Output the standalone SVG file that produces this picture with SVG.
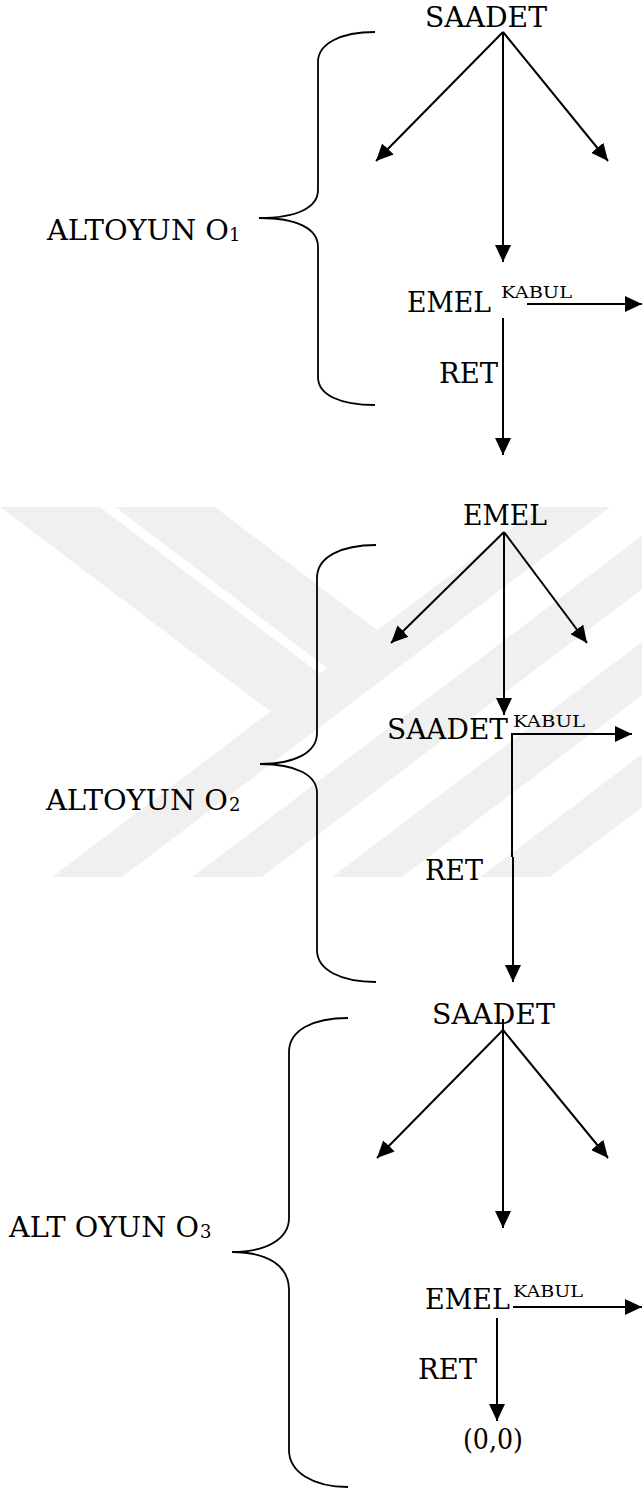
<svg xmlns="http://www.w3.org/2000/svg" width="642" height="1490" viewBox="0 0 642 1490">
<style>
.c{stroke:#000;stroke-width:2;fill:none}
.br{stroke:#000;stroke-width:1.8;fill:none}
.wm{fill:#f0f0f0}
</style>
<defs>
<marker id="ah" markerWidth="17" markerHeight="16" refX="17" refY="8" orient="auto" markerUnits="userSpaceOnUse">
<path d="M0,0 L17,8 L0,16 z" fill="#000"/>
</marker>
</defs>
<rect width="642" height="1490" fill="#fff"/>
<g id="watermark">
<polygon class="wm" points="0,507 100,507 320,674 270,711 0,507"/>
<polygon class="wm" points="115,507 215,507 377,630 327,668"/>
<polygon class="wm" points="540,507 610,507 122,877 52,877"/>
<polygon class="wm" points="680,507 750,507 262,877 192,877"/>
<polygon class="wm" points="820,507 890,507 402,877 332,877"/>
<polygon class="wm" points="968,507 1038,507 550,877 480,877"/>
</g>
<g id="braces">
<path id="brace1" class="br" d="M375,32 C340,32 318,44 318,62 L318,190 C318,208 296,218 259,218 C296,218 318,228 318,247 L318,377 C318,395 340,405 375,405"/>
<path id="brace2" class="br" d="M376,545 C341,545 317,557 317,578 L317,733 C317,752 296,764 260,764 C296,764 317,775 317,793 L317,950 C317,970 341,982 376,982"/>
<path id="brace3" class="br" d="M348,1018 C313,1018 289,1030 289,1052 L289,1218 C289,1238 268,1252 232,1252 C268,1252 289,1266 289,1290 L289,1450 C289,1472 313,1487 348,1487"/>
</g>
<g id="connectors">
<line class="c" x1="503" y1="32" x2="376" y2="161" marker-end="url(#ah)"/>
<line class="c" x1="503" y1="32" x2="608" y2="161" marker-end="url(#ah)"/>
<line class="c" x1="503" y1="32" x2="503" y2="262" marker-end="url(#ah)"/>
<line class="c" x1="527" y1="304" x2="642" y2="304" marker-end="url(#ah)"/>
<line class="c" x1="503" y1="318" x2="503" y2="455" marker-end="url(#ah)"/>

<line class="c" x1="504" y1="532" x2="391" y2="643" marker-end="url(#ah)"/>
<line class="c" x1="504" y1="532" x2="587" y2="643" marker-end="url(#ah)"/>
<line class="c" x1="504" y1="532" x2="504" y2="715" marker-end="url(#ah)"/>
<line class="c" x1="511" y1="734" x2="632" y2="734" marker-end="url(#ah)"/>
<path class="c" d="M512,733 V857 M513,857 V982" marker-end="url(#ah)"/>

<line class="c" x1="503" y1="1019" x2="503" y2="1228" marker-end="url(#ah)"/>
<line class="c" x1="503" y1="1030" x2="377" y2="1158" marker-end="url(#ah)"/>
<line class="c" x1="503" y1="1030" x2="608" y2="1158" marker-end="url(#ah)"/>
<line class="c" x1="513" y1="1307" x2="642" y2="1307" marker-end="url(#ah)"/>
<line class="c" x1="497" y1="1318" x2="497" y2="1421" marker-end="url(#ah)"/>
</g>
<g font-family="DejaVu Serif, serif" fill="#000" font-size="28">
<g id="n1-saadet"><text x="425" y="27" textLength="122" lengthAdjust="spacingAndGlyphs">SAADET</text></g>
<g id="n1-emel"><text x="407" y="312" textLength="84" lengthAdjust="spacingAndGlyphs">EMEL</text><text x="501" y="298" font-size="17.5" textLength="71" lengthAdjust="spacingAndGlyphs">KABUL</text></g>
<g id="n1-ret"><text x="439" y="383" textLength="59" lengthAdjust="spacingAndGlyphs">RET</text></g>
<g id="label-o1"><text x="47" y="240" textLength="182" lengthAdjust="spacingAndGlyphs">ALTOYUN O</text><text x="229" y="241" font-size="18">1</text></g>

<g id="n2-emel"><text x="463" y="525" textLength="84" lengthAdjust="spacingAndGlyphs">EMEL</text></g>
<g id="n2-saadet"><text x="387" y="739" textLength="121" lengthAdjust="spacingAndGlyphs">SAADET</text><text x="513" y="727" font-size="17.5" textLength="72" lengthAdjust="spacingAndGlyphs">KABUL</text></g>
<g id="n2-ret"><text x="425" y="880" textLength="58" lengthAdjust="spacingAndGlyphs">RET</text></g>
<g id="label-o2"><text x="46" y="810" textLength="182" lengthAdjust="spacingAndGlyphs">ALTOYUN O</text><text x="229" y="811" font-size="18">2</text></g>

<g id="n3-saadet"><text x="432" y="1024" textLength="123" lengthAdjust="spacingAndGlyphs">SAADET</text></g>
<g id="n3-emel"><text x="425" y="1309" textLength="85" lengthAdjust="spacingAndGlyphs">EMEL</text><text x="513" y="1297" font-size="17.5" textLength="70" lengthAdjust="spacingAndGlyphs">KABUL</text></g>
<g id="n3-ret"><text x="418" y="1379" textLength="59" lengthAdjust="spacingAndGlyphs">RET</text></g>
<g id="n3-result"><text x="463" y="1449" font-size="27" textLength="60" lengthAdjust="spacingAndGlyphs">(0,0)</text></g>
<g id="label-o3"><text x="9" y="1237" textLength="190" lengthAdjust="spacingAndGlyphs">ALT OYUN O</text><text x="200" y="1238" font-size="18">3</text></g>
</g>
</svg>
